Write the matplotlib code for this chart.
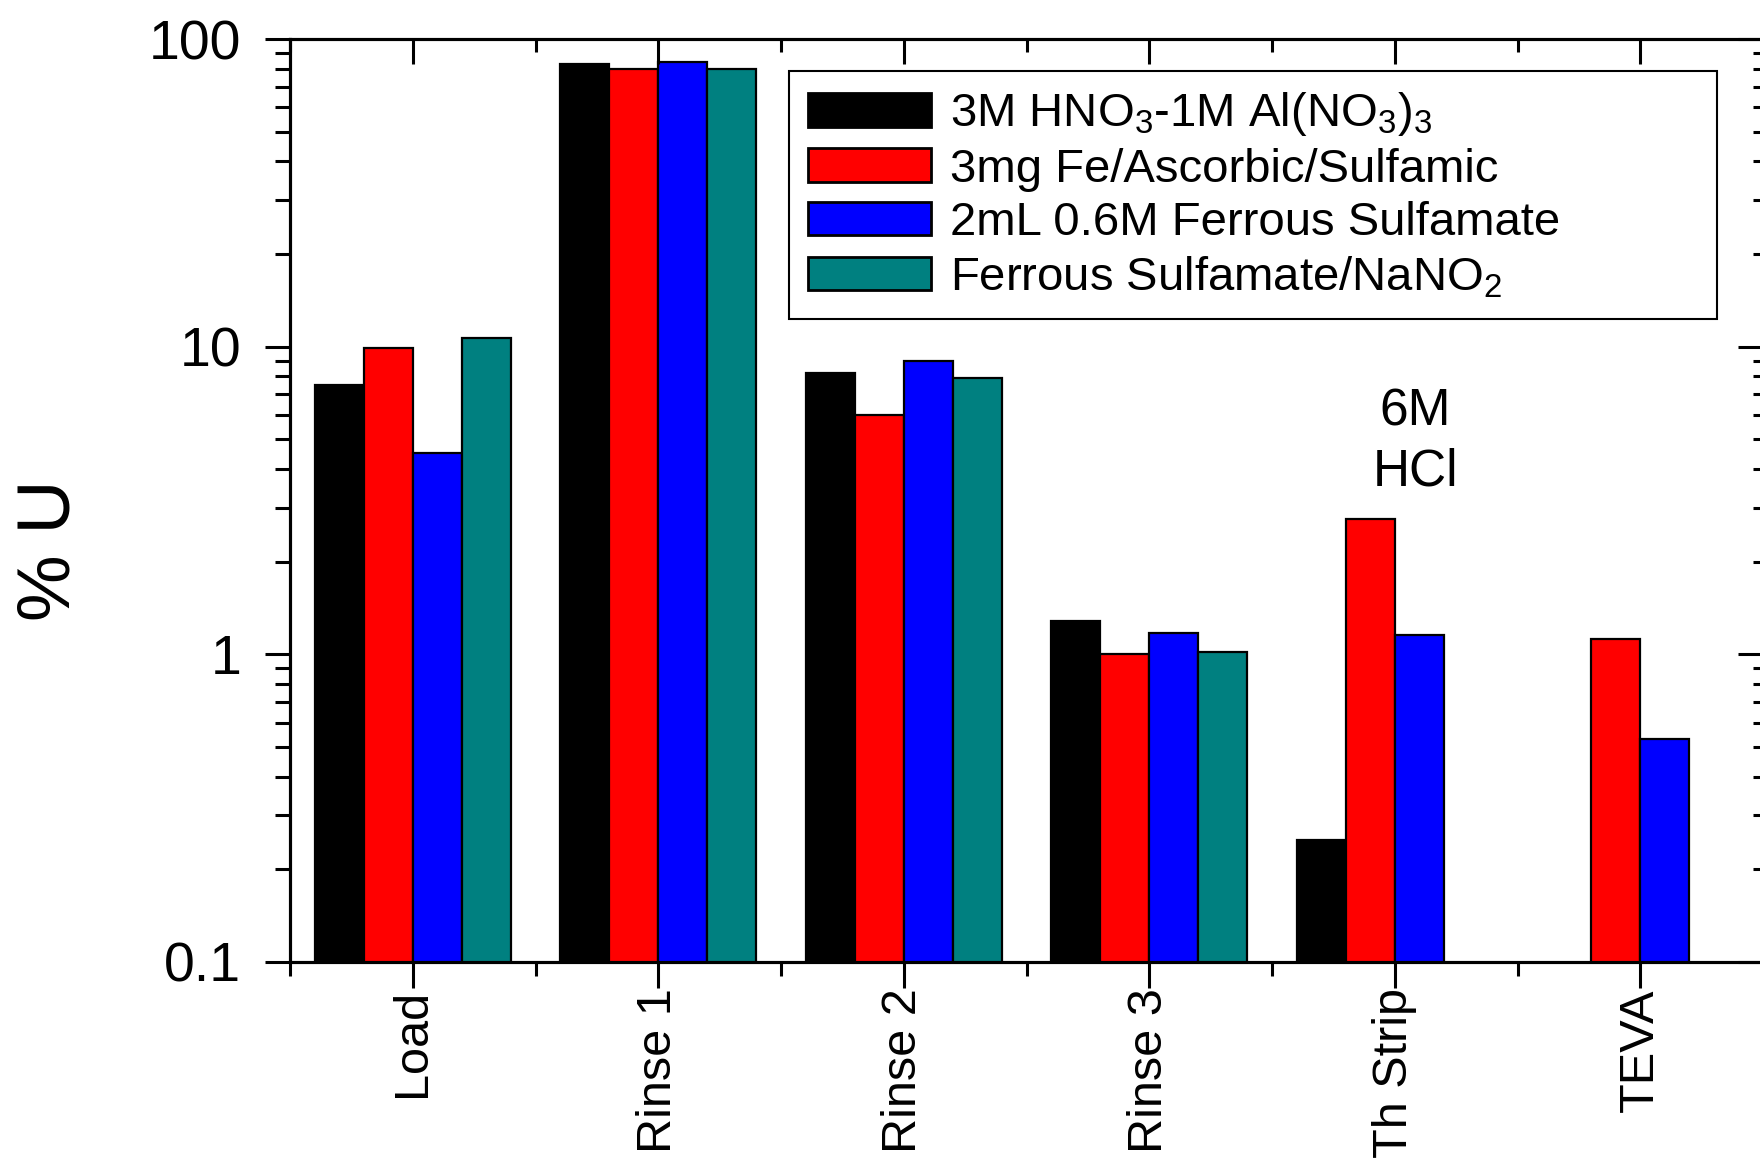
import numpy as np
import matplotlib
matplotlib.use("Agg")
import matplotlib.pyplot as plt
from matplotlib.ticker import FixedLocator, FuncFormatter, LogLocator, NullFormatter

plt.rcParams['font.family'] = ['Liberation Sans', 'DejaVu Sans']
plt.rcParams['mathtext.fontset'] = 'custom'
plt.rcParams['mathtext.rm'] = 'Liberation Sans'
plt.rcParams['mathtext.it'] = 'Liberation Sans'

# data (% U per step)
categories = ['Load', 'Rinse 1', 'Rinse 2', 'Rinse 3', 'Th Strip', 'TEVA']
hno3_al = [7.5, 83, 8.2, 1.28, 0.25, np.nan]
fe_ascorbic = [9.9, 80, 6.0, 1.0, 2.75, 1.12]
ferrous_sulf = [4.5, 84, 9.0, 1.17, 1.16, 0.53]
ferrous_nano2 = [10.7, 80, 7.9, 1.02, np.nan, np.nan]

series = [hno3_al, fe_ascorbic, ferrous_sulf, ferrous_nano2]
labels = ['3M HNO$_3$-1M Al(NO$_3$)$_3$',
          '3mg Fe/Ascorbic/Sulfamic',
          '2mL 0.6M Ferrous Sulfamate',
          'Ferrous Sulfamate/NaNO$_2$']
colors = ['#000000', '#ff0000', '#0000ff', '#008080']

fig = plt.figure(figsize=(17.6, 11.66), dpi=100)
ax = fig.add_axes([290/1760, 1 - 962/1166, 1473/1760, 923/1166])

x = np.arange(len(categories))
w = 0.2
for i, vals in enumerate(series):
    vals = np.array(vals, dtype=float)
    ok = ~np.isnan(vals)
    ax.bar(x[ok] + (i - 1.5) * w, vals[ok], width=w, color=colors[i],
           edgecolor='black', linewidth=1.6, label=labels[i], log=True)

ax.set_yscale('log')
ax.set_ylim(0.1, 100)
ax.set_xlim(-0.5, 5.5)

ax.yaxis.set_major_locator(FixedLocator([0.1, 1, 10, 100]))
ax.yaxis.set_major_formatter(FuncFormatter(lambda v, p: '%g' % v))
ax.yaxis.set_minor_locator(LogLocator(base=10, subs=np.arange(2, 10)))
ax.yaxis.set_minor_formatter(NullFormatter())

ax.set_xticks(x)
ax.set_xticklabels(categories, rotation=90, va='top', ha='center')
ax.set_xticks(np.arange(-0.5, 6, 1), minor=True)

for s in ax.spines.values():
    s.set_linewidth(2.2)

ax.tick_params(axis='y', which='major', direction='out', length=18, width=2.2,
               labelsize=40, pad=17)
ax.tick_params(axis='y', which='minor', direction='out', length=11, width=2.2)
ax.tick_params(axis='x', which='major', direction='out', length=19, width=2.2,
               labelsize=35, pad=0)
ax.tick_params(axis='x', which='minor', direction='out', length=10, width=2.2)

# right axis: inward ticks, no labels
axr = ax.twinx()
axr.set_yscale('log')
axr.set_ylim(0.1, 100)
axr.yaxis.set_major_locator(FixedLocator([0.1, 1, 10, 100]))
axr.yaxis.set_minor_locator(LogLocator(base=10, subs=np.arange(2, 10)))
axr.yaxis.set_minor_formatter(NullFormatter())
axr.tick_params(axis='y', which='major', direction='in', length=18, width=2.2, labelright=False)
axr.tick_params(axis='y', which='minor', direction='in', length=7, width=2.2)

# top axis: inward ticks, no labels
axt = ax.twiny()
axt.set_xlim(-0.5, 5.5)
axt.set_xticks(x)
axt.set_xticks(np.arange(-0.5, 6, 1), minor=True)
axt.tick_params(axis='x', which='major', direction='in', length=18, width=2.2, labeltop=False)
axt.tick_params(axis='x', which='minor', direction='in', length=9, width=2.2)
for a in (axr, axt):
    for s in a.spines.values():
        s.set_linewidth(2.2)

ax.text(4.085, 4.9, '6M\nHCl', ha='center', va='center', fontsize=37, linespacing=1.3)

fig.text(50/1760, 1 - 550/1166, '% U', rotation=90, ha='center', va='center', fontsize=54)

leg = ax.legend(loc='upper left', bbox_to_anchor=(0.339, 0.965, 0.630, 0.0), mode='expand',
                fontsize=34, handlelength=2.6, handleheight=0.72, handletextpad=0.4,
                labelspacing=0.2, borderpad=0.4, fancybox=False, framealpha=1,
                edgecolor='black', borderaxespad=0)
leg.get_frame().set_linewidth(1.5)
for h in leg.legend_handles:
    h.set_linewidth(2)

fig.savefig('out.png', dpi=100)
